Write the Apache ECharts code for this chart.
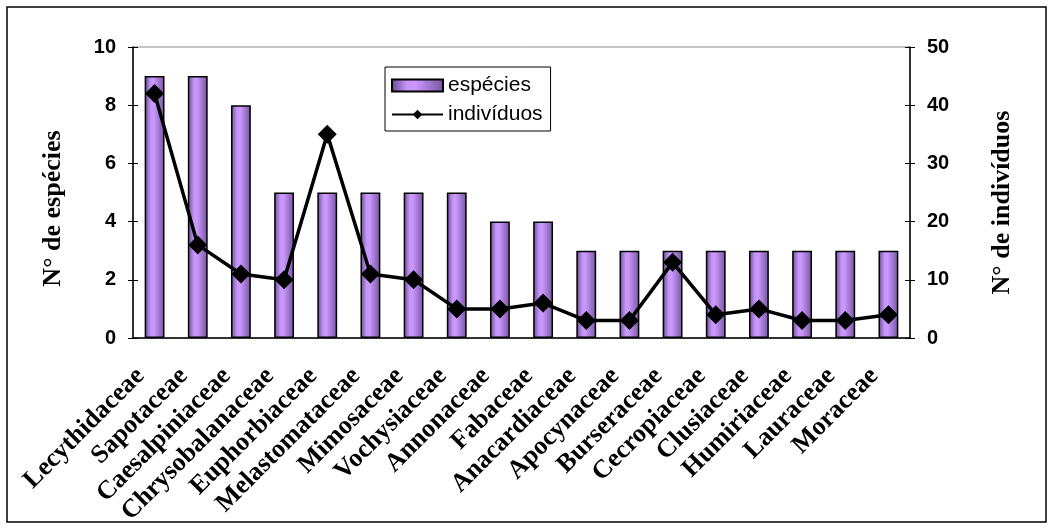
<!DOCTYPE html>
<html>
<head>
<meta charset="utf-8">
<script src="https://cdn.jsdelivr.net/npm/echarts@6/dist/echarts.min.js"></script>
<style>
html,body{margin:0;padding:0;background:#fff;}
#chart{width:1053px;height:529px;}
</style>
</head>
<body>
<div id="chart"></div>
<script>
const categories = ["Lecythidaceae","Sapotaceae","Caesalpiniaceae","Chrysobalanaceae","Euphorbiaceae","Melastomataceae","Mimosaceae","Vochysiaceae","Annonaceae","Fabaceae","Anacardiaceae","Apocynaceae","Burseraceae","Cecropiaceae","Clusiaceae","Humiriaceae","Lauraceae","Moraceae"];
const especies = [9,9,8,5,5,5,5,5,4,4,3,3,3,3,3,3,3,3];
const individuos = [42,16,11,10,35,11,10,5,5,6,3,3,13,4,5,3,3,4];
const leftTicks = {min:0,max:10,interval:2};
const rightTicks = {min:0,max:50,interval:10};

const chart = echarts.init(document.getElementById('chart'), null, {renderer:'canvas'});
const tickFont = {fontFamily:'Liberation Sans, Arial, sans-serif', fontWeight:'bold', fontSize:20, color:'#000'};
const serifBold = {fontFamily:'Liberation Serif, Times New Roman, serif', fontWeight:'bold', color:'#000'};
const barGrad = new echarts.graphic.LinearGradient(0,0,1,0,[
  {offset:0,color:'#66468f'},
  {offset:0.3,color:'#c495f5'},
  {offset:0.45,color:'#cc99ff'},
  {offset:1,color:'#74549f'}
]);
chart.setOption({
  animation:false,
  backgroundColor:'#fff',
  graphic:[{type:'rect',shape:{x:7,y:7,width:1039,height:515},style:{fill:'none',stroke:'#000',lineWidth:1.5},z:-1}],
  grid:{left:133,right:143,top:47,bottom:191,show:true,borderColor:'#8c8c8c',borderWidth:1,backgroundColor:'transparent'},
  legend:{
    orient:'vertical',left:385,top:67,
    backgroundColor:'#fff',borderColor:'#000',borderWidth:1,
    padding:[8,8,6,6],itemGap:8,itemWidth:51,itemHeight:12,
    textStyle:{fontFamily:'Liberation Sans, Arial, sans-serif',fontSize:21,color:'#000'},
    data:[{name:'espécies',icon:'rect'},{name:'indivíduos'}]
  },
  xAxis:[
    {type:'category',data:categories,position:'bottom',
     axisLine:{lineStyle:{color:'#000',width:1.5}},
     axisTick:{inside:false,length:8,lineStyle:{color:'#000',width:1}},
     axisLabel:Object.assign({rotate:45,interval:0,margin:20,padding:[0,20,0,0],fontSize:26},serifBold),
     splitLine:{show:false}},
    {type:'category',data:categories,position:'bottom',
     axisLine:{show:false},
     axisTick:{inside:true,length:9,lineStyle:{color:'#000',width:1}},
     axisLabel:{show:false},splitLine:{show:false}}
  ],
  yAxis:[
    Object.assign({type:'value',position:'left',name:'N° de espécies',nameLocation:'middle',nameGap:67,
     nameTextStyle:Object.assign({fontSize:26,padding:[0,32,0,0]},serifBold),
     axisLine:{show:true,lineStyle:{color:'#000',width:1.5}},
     axisTick:{show:true,inside:false,length:5,lineStyle:{color:'#000'}},
     axisLabel:Object.assign({margin:17},tickFont),splitLine:{show:false}},leftTicks),
    Object.assign({type:'value',position:'right',name:'N° de indivíduos',nameLocation:'middle',nameGap:79,
     nameTextStyle:Object.assign({fontSize:26,padding:[0,20,0,0]},serifBold),
     axisLine:{show:true,lineStyle:{color:'#000',width:1.5}},
     axisTick:{show:true,inside:false,length:5,lineStyle:{color:'#000'}},
     axisLabel:Object.assign({margin:17},tickFont),splitLine:{show:false}},rightTicks),
    Object.assign({type:'value',position:'left',axisLine:{show:false},
     axisTick:{show:true,inside:true,length:5,lineStyle:{color:'#000'}},
     axisLabel:{show:false},splitLine:{show:false}},leftTicks),
    Object.assign({type:'value',position:'right',axisLine:{show:false},
     axisTick:{show:true,inside:true,length:5,lineStyle:{color:'#000'}},
     axisLabel:{show:false},splitLine:{show:false}},rightTicks)
  ],
  series:[
    {name:'espécies',type:'bar',xAxisIndex:0,yAxisIndex:0,data:especies,barWidth:'46%',
     itemStyle:{color:barGrad,borderColor:'#000',borderWidth:1.5}},
    {name:'indivíduos',type:'line',xAxisIndex:0,yAxisIndex:1,data:individuos,
     symbol:'diamond',symbolSize:19,
     lineStyle:{color:'#000',width:3.5},itemStyle:{color:'#000'},z:5}
  ]
});
</script>
</body>
</html>
